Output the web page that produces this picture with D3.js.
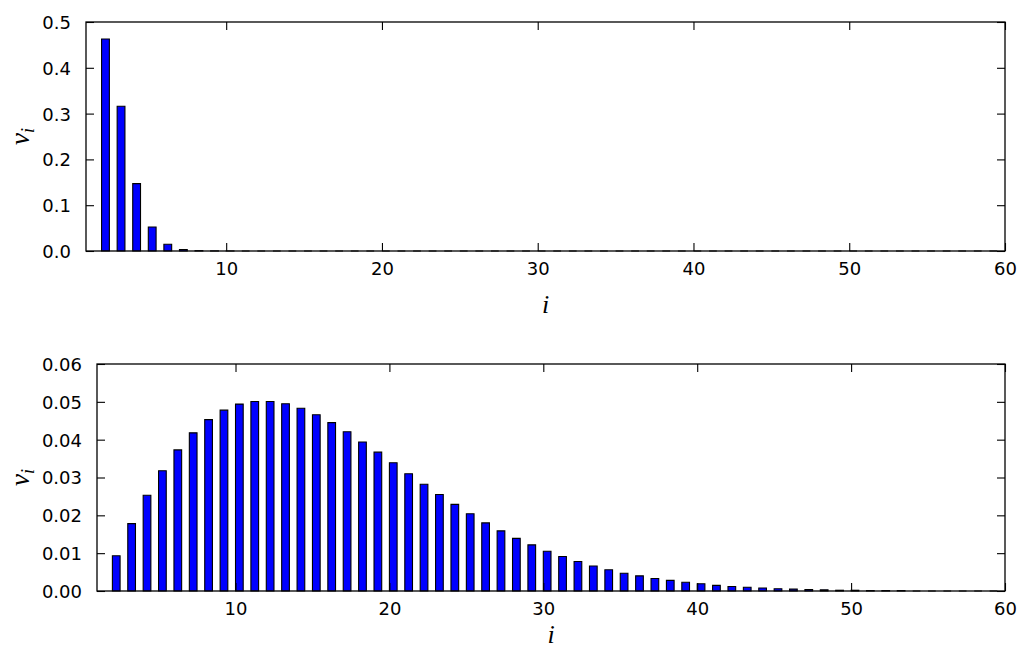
<!DOCTYPE html>
<html><head><meta charset="utf-8">
<script src="https://cdn.jsdelivr.net/npm/d3@7"></script>
<style>
html,body{margin:0;padding:0;background:#fff;}
svg{display:block;}
.tick text{font-family:"DejaVu Sans",sans-serif;font-size:18px;fill:#000;}
</style></head>
<body>
<svg id="chart" width="1020" height="651"></svg>
<script>
// index i for each bar
const indices = d3.range(2, 60);
// top panel values v_i (i = 2..59)
const topValues = [
 0.463, 0.316, 0.147, 0.0524, 0.0146, 0.0033, 0.0007, 0.0002, 0.0001, 0.0000,
 0.0000, 0.0000, 0.0000, 0.0000, 0.0000, 0.0000, 0.0000, 0.0000, 0.0000, 0.0000,
 0.0000, 0.0000, 0.0000, 0.0000, 0.0000, 0.0000, 0.0000, 0.0000, 0.0000, 0.0000,
 0.0000, 0.0000, 0.0000, 0.0000, 0.0000, 0.0000, 0.0000, 0.0000, 0.0000, 0.0000,
 0.0000, 0.0000, 0.0000, 0.0000, 0.0000, 0.0000, 0.0000, 0.0000, 0.0000, 0.0000,
 0.0000, 0.0000, 0.0000, 0.0000, 0.0000, 0.0000, 0.0000, 0.0000
];
// bottom panel values v_i (i = 2..59)
const bottomValues = [
 0.0093, 0.0178, 0.0253, 0.0318, 0.0373, 0.0418, 0.0453, 0.0478, 0.0494, 0.0501,
 0.0501, 0.0495, 0.0483, 0.0466, 0.0445, 0.0421, 0.0394, 0.0367, 0.0339, 0.0310,
 0.0282, 0.0255, 0.0229, 0.0204, 0.0180, 0.0159, 0.0139, 0.0122, 0.0105, 0.0091,
 0.0078, 0.0066, 0.0056, 0.0047, 0.0040, 0.0033, 0.0028, 0.0023, 0.0019, 0.0015,
 0.0012, 0.0010, 0.0008, 0.0006, 0.0005, 0.0004, 0.0003, 0.0002, 0.0002, 0.0001,
 0.0001, 0.0001, 0.0000, 0.0000, 0.0000, 0.0000, 0.0000, 0.0000
];
const xTicks = [10, 20, 30, 40, 50, 60];
const topYTicks = [0.0, 0.1, 0.2, 0.3, 0.4, 0.5];
const bottomYTicks = [0.00, 0.01, 0.02, 0.03, 0.04, 0.05, 0.06];
const barWidth = 0.5;

const svg = d3.select("#chart");

function panel(box, values, yTicks, yFmt, yMax, xlabelY) {
  const g = svg.append("g");
  const x = d3.scaleLinear().domain([1, 60]).range([box.left, box.right]);
  const y = d3.scaleLinear().domain([0, yMax]).range([box.bottom, box.top]);
  const tl = 8;

  // bars (paths so zero-height bars still show their outline)
  g.append("g").selectAll("path").data(indices.map((d, k) => ({i: d, v: values[k]})))
    .join("path")
    .attr("d", d => {
      const x0 = x(d.i), x1 = x(d.i + barWidth), y0 = y(0), y1 = y(d.v);
      return `M${x0},${y0}V${y1}H${x1}V${y0}Z`;
    })
    .attr("fill", "#0000ff")
    .attr("stroke", "#000")
    .attr("stroke-width", 1.1);

  // axes
  const xb = g.append("g").attr("transform", `translate(0,${box.bottom})`)
    .call(d3.axisBottom(x).tickValues(xTicks).tickSize(-tl).tickPadding(11).tickFormat(d3.format("d")));
  const xt = g.append("g").attr("transform", `translate(0,${box.top})`)
    .call(d3.axisTop(x).tickValues(xTicks).tickSize(-tl).tickFormat(""));
  const yl = g.append("g").attr("transform", `translate(${box.left},0)`)
    .call(d3.axisLeft(y).tickValues(yTicks).tickSize(-tl).tickPadding(15).tickFormat(d3.format(yFmt)));
  const yr = g.append("g").attr("transform", `translate(${box.right},0)`)
    .call(d3.axisRight(y).tickValues(yTicks).tickSize(-tl).tickFormat(""));
  [xb, xt, yl, yr].forEach(a => {
    a.select(".domain").remove();
    a.selectAll(".tick line").attr("stroke", "#000").attr("stroke-width", 1.1);
  });
  yl.selectAll(".tick text").attr("dy", "0.36em");
  xb.selectAll(".tick text").attr("dy", "0.71em");

  // frame
  g.append("rect").attr("x", box.left).attr("y", box.top)
    .attr("width", box.right - box.left).attr("height", box.bottom - box.top)
    .attr("fill", "none").attr("stroke", "#000").attr("stroke-width", 1.3);

  // axis labels
  g.append("text").attr("x", (box.left + box.right) / 2).attr("y", xlabelY)
    .attr("text-anchor", "middle")
    .style("font-family", "'Liberation Serif','DejaVu Serif',serif").style("font-style", "italic")
    .style("font-size", "26px").text("i");
  const yl2 = g.append("text")
    .attr("transform", `translate(${box.ylabelX},${(box.top + box.bottom) / 2}) rotate(-90)`)
    .attr("text-anchor", "middle")
    .style("font-family", "'Liberation Serif','DejaVu Serif',serif").style("font-style", "italic")
    .style("font-size", "27px");
  yl2.append("tspan").text("v");
  yl2.append("tspan").attr("dy", "0.25em").style("font-size", "18px").text("i");
}

panel({left: 86, right: 1005, top: 22, bottom: 251, ylabelX: 29}, topValues, topYTicks, ".1f", 0.5, 313);
panel({left: 97, right: 1005, top: 364, bottom: 591, ylabelX: 29}, bottomValues, bottomYTicks, ".2f", 0.06, 643);
</script>
</body></html>
